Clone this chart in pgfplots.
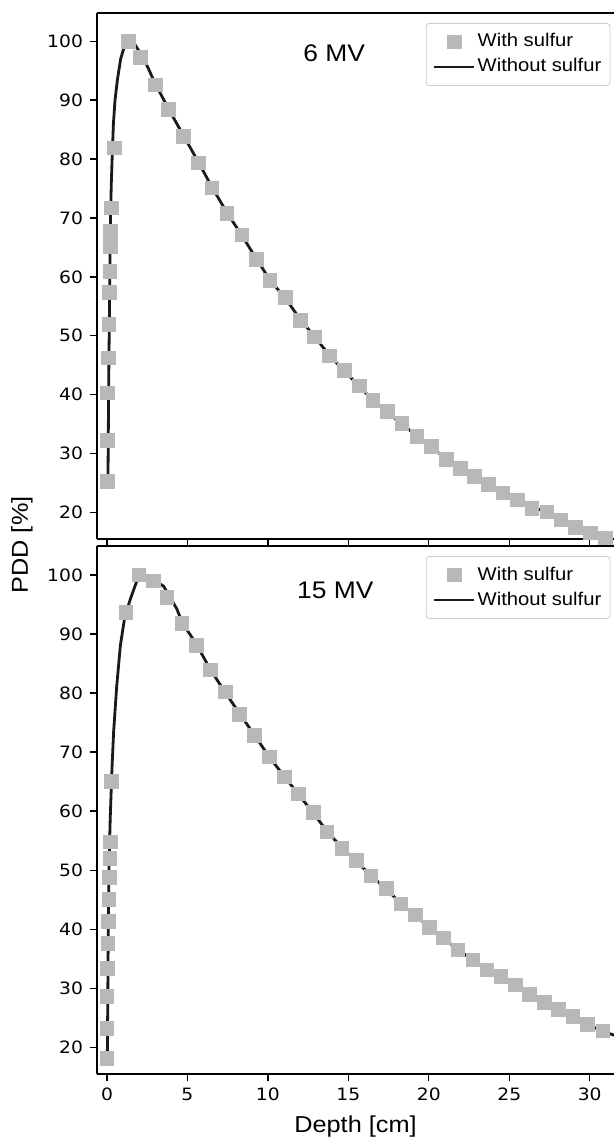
\documentclass[border=0pt]{standalone}
\usepackage{pgfplots}
\pgfplotsset{compat=1.18}
\usepackage{fontspec}
\setmainfont{Liberation Sans}[FakeStretch=1.1]
\newfontfamily\tickfont{DejaVu Sans}[FakeStretch=1.1]
\definecolor{sq}{HTML}{B8B8B8}
\definecolor{ln}{HTML}{1A1A1A}

\pgfplotsset{
 pddaxis/.style={
  scale only axis, width=258.5pt, anchor=south west,
  xmin=-0.62, xmax=31.51, ymin=15.5,
  axis x line*=box, axis y line*=left,
  axis line style={-, line width=0.8pt, black},
  xtick={0,5,...,30}, ytick={20,30,...,100},
  xtick pos=left, ytick pos=left,
  tick align=outside, major tick length=3.5pt,
  every tick/.style={black, line width=0.7pt},
  tick label style={font=\tickfont\fontsize{8.5}{10}\selectfont},
  /pgf/number format/assume math mode=true,
  legend style={at={(0.993,0.981)}, anchor=north east, draw=black!20, rounded corners=1.5pt, fill=white,
    font=\fontsize{9.2}{11}\selectfont, inner xsep=3.3pt, inner ysep=4pt,
    nodes={inner sep=1pt, text height=6.8pt, text depth=1.8pt}, row sep=1.9pt},
  legend cell align=left,
 },
 sqplot/.style={only marks, color=sq, mark=square*, mark size=3.4pt, mark options={solid, fill=sq, draw=sq, line width=0pt},
   legend image code/.code={\draw[mark repeat=2, mark phase=2, ##1] plot coordinates {(0pt,0pt)(10pt,0pt)(20pt,0pt)};}},
 lnplot/.style={no marks, color=ln, line width=1.4pt,
   legend image code/.code={\draw[##1] (0pt,0pt) -- (20pt,0pt);}},
}

\pgfplotstableread{
x y
0.02 25.3
0.02 32.2
0.03 40.3
0.08 46.2
0.12 51.9
0.14 57.3
0.18 60.9
0.22 65.2
0.23 67.7
0.29 71.7
0.45 81.9
1.35 100.0
2.07 97.2
3.00 92.6
3.83 88.4
4.77 83.8
5.70 79.3
6.53 75.1
7.46 70.8
8.39 67.1
9.28 63.0
10.12 59.4
11.10 56.5
12.01 52.6
12.89 49.8
13.82 46.6
14.75 44.1
15.68 41.5
16.53 39.0
17.44 37.1
18.33 35.1
19.27 32.9
20.16 31.2
21.09 29.0
21.96 27.5
22.85 26.1
23.72 24.8
24.61 23.3
25.52 22.1
26.41 20.7
27.35 20.1
28.22 18.7
29.10 17.5
30.04 16.5
30.97 15.6
}\sixsq

\pgfplotstableread{
x y
0.06 25.1
0.08 32.0
0.10 40.0
0.13 48.0
0.16 56.0
0.19 64.0
0.22 70.0
0.27 76.0
0.32 80.0
0.40 86.0
0.50 90.0
0.65 93.5
0.85 97.0
1.10 99.3
1.30 99.9
1.45 100.0
1.70 99.6
2.00 98.3
2.30 97.0
3.00 92.8
3.83 88.5
4.77 83.9
5.70 79.4
6.53 75.2
7.46 70.9
8.39 67.0
9.28 63.1
10.12 59.5
11.10 56.3
12.01 52.8
12.89 49.9
13.82 46.7
14.75 44.0
15.68 41.4
16.53 39.1
17.44 37.0
18.33 35.0
19.27 33.0
20.16 31.1
21.09 29.1
21.96 27.6
22.85 26.1
23.72 24.8
24.61 23.4
25.52 22.2
26.41 21.0
27.35 20.0
28.22 18.9
29.10 17.7
30.04 16.6
30.97 15.7
31.60 15.1
}\sixln

\pgfplotstableread{
x y
0.00 18.1
0.00 23.2
0.01 28.6
0.02 33.4
0.06 37.6
0.10 41.3
0.12 45.0
0.17 48.8
0.18 52.0
0.22 54.8
0.29 65.0
1.18 93.6
2.00 100.0
2.90 99.0
3.73 96.2
4.66 91.8
5.55 88.1
6.42 83.9
7.35 80.2
8.25 76.4
9.16 72.8
10.11 69.2
11.02 65.8
11.91 62.9
12.82 59.8
13.67 56.5
14.61 53.7
15.50 51.6
16.41 49.0
17.36 46.9
18.27 44.3
19.16 42.4
20.05 40.3
20.93 38.5
21.81 36.5
22.75 34.8
23.62 33.1
24.49 32.0
25.38 30.6
26.27 29.0
27.18 27.6
28.07 26.4
28.96 25.2
29.88 23.9
30.83 22.8
}\fifsq

\pgfplotstableread{
x y
0.02 18.0
0.05 28.0
0.08 40.0
0.12 50.0
0.20 58.6
0.30 66.5
0.41 73.3
0.60 81.0
0.83 88.0
1.10 92.8
1.45 95.9
1.86 99.0
2.38 100.0
2.90 99.1
3.52 98.1
4.35 94.2
4.66 92.0
5.55 88.3
6.42 84.0
7.35 80.1
8.25 76.5
9.16 72.9
10.11 69.1
11.02 65.9
11.91 62.8
12.82 59.7
13.67 56.6
14.61 53.8
15.50 51.5
16.41 49.1
17.36 46.8
18.27 44.4
19.16 42.3
20.05 40.4
20.93 38.4
21.81 36.6
22.75 34.7
23.62 33.2
24.49 31.9
25.38 30.5
26.27 29.1
27.18 27.6
28.07 26.3
28.96 25.1
29.88 23.9
30.83 22.7
31.60 22.0
}\fifln

\begin{document}
\begin{tikzpicture}
\useasboundingbox (0,0) rectangle (307pt,571pt);
\begin{axis}[pddaxis, at={(48.5pt,301.5pt)}, height=263pt, ymax=104.8, xticklabels={}]
\addplot[sqplot] table {\sixsq};
\addlegendentry{With sulfur}
\addplot[lnplot] table {\sixln};
\addlegendentry{Without sulfur}
\node[font=\fontsize{12}{14}\selectfont] at (rel axis cs:0.459,0.924) {6 MV};
\end{axis}
\begin{axis}[pddaxis, at={(48.5pt,34pt)}, height=264pt, ymax=104.9,
  xlabel={Depth [cm]}, ylabel={PDD [\%]},
  every axis x label/.style={at={(axis description cs:0.5,-0.100)}, anchor=center, font=\fontsize{11.5}{13}\selectfont},
  every axis y label/.style={at={(axis description cs:-0.145,1.002)}, anchor=center, rotate=90, font=\fontsize{11.5}{13}\selectfont}]
\addplot[sqplot] table {\fifsq};
\addlegendentry{With sulfur}
\addplot[lnplot] table {\fifln};
\addlegendentry{Without sulfur}
\node[font=\fontsize{12}{14}\selectfont] at (rel axis cs:0.461,0.916) {15 MV};
\end{axis}
\end{tikzpicture}
\end{document}
